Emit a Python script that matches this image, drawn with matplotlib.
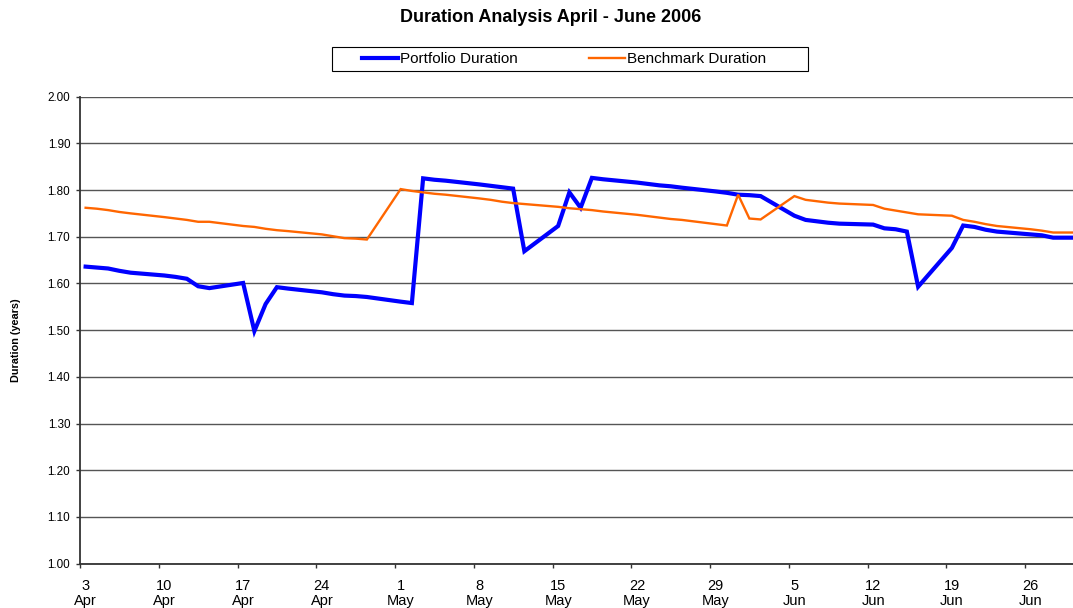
#!/usr/bin/env python3
# coding=UTF-8
"""Duration analysis chart, April - June 2006."""
import numpy as np
import matplotlib
matplotlib.use('Agg')
import matplotlib.pyplot as plt
from matplotlib.patches import Rectangle

START = '2006-04-03'

dates = [
    '2006-04-03', '2006-04-04', '2006-04-05', '2006-04-06', '2006-04-07',
    '2006-04-10', '2006-04-11', '2006-04-12', '2006-04-13', '2006-04-14',
    '2006-04-17', '2006-04-18', '2006-04-19', '2006-04-20', '2006-04-21',
    '2006-04-24', '2006-04-25', '2006-04-26', '2006-04-27', '2006-04-28',
    '2006-05-01', '2006-05-02', '2006-05-03', '2006-05-04', '2006-05-05',
    '2006-05-08', '2006-05-09', '2006-05-10', '2006-05-11', '2006-05-12',
    '2006-05-15', '2006-05-16', '2006-05-17', '2006-05-18', '2006-05-19',
    '2006-05-22', '2006-05-23', '2006-05-24', '2006-05-25', '2006-05-26',
    '2006-05-29', '2006-05-30', '2006-05-31', '2006-06-01', '2006-06-02',
    '2006-06-05', '2006-06-06', '2006-06-07', '2006-06-08', '2006-06-09',
    '2006-06-12', '2006-06-13', '2006-06-14', '2006-06-15', '2006-06-16',
    '2006-06-19', '2006-06-20', '2006-06-21', '2006-06-22', '2006-06-23',
    '2006-06-26', '2006-06-27', '2006-06-28', '2006-06-29', '2006-06-30',
]

portfolio = [
    1.636, 1.634, 1.632, 1.627, 1.623,
    1.617, 1.614, 1.610, 1.594, 1.590,
    1.601, 1.498, 1.556, 1.592, 1.589,
    1.581, 1.577, 1.574, 1.573, 1.571,
    1.561, 1.558, 1.825, 1.822, 1.820,
    1.812, 1.809, 1.806, 1.803, 1.669,
    1.723, 1.795, 1.762, 1.826, 1.823,
    1.816, 1.813, 1.810, 1.808, 1.805,
    1.797, 1.794, 1.790, 1.789, 1.787,
    1.745, 1.736, 1.733, 1.730, 1.728,
    1.726, 1.718, 1.716, 1.711, 1.593,
    1.676, 1.724, 1.721, 1.715, 1.711,
    1.705, 1.703, 1.698, 1.698, 1.698,
]

benchmark = [
    1.762, 1.760, 1.757, 1.753, 1.750,
    1.742, 1.739, 1.736, 1.732, 1.732,
    1.723, 1.721, 1.717, 1.714, 1.712,
    1.705, 1.701, 1.697, 1.696, 1.694,
    1.802, 1.798, 1.795, 1.792, 1.790,
    1.782, 1.779, 1.775, 1.772, 1.770,
    1.764, 1.761, 1.759, 1.757, 1.754,
    1.747, 1.744, 1.741, 1.738, 1.736,
    1.727, 1.724, 1.790, 1.739, 1.737,
    1.787, 1.779, 1.776, 1.773, 1.771,
    1.768, 1.760, 1.756, 1.752, 1.748,
    1.745, 1.736, 1.732, 1.727, 1.723,
    1.716, 1.713, 1.709, 1.709, 1.709,
]

tick_dates = [
    '2006-04-03', '2006-04-10', '2006-04-17', '2006-04-24', '2006-05-01',
    '2006-05-08', '2006-05-15', '2006-05-22', '2006-05-29', '2006-06-05',
    '2006-06-12', '2006-06-19', '2006-06-26',
]
tick_labels = [
    '3\nApr', '10\nApr', '17\nApr', '24\nApr', '1\nMay', '8\nMay', '15\nMay',
    '22\nMay', '29\nMay', '5\nJun', '12\nJun', '19\nJun', '26\nJun',
]


def day_offset(values):
    """Days since the first date of the chart."""
    arr = np.array(values, dtype='datetime64[D]')
    return (arr - np.datetime64(START)).astype(int)


def plot(output='out.png'):
    plt.rcParams['font.family'] = ['Liberation Sans', 'DejaVu Sans']
    W, H = 1073, 608
    fig = plt.figure(figsize=(W / 100, H / 100), dpi=100)
    # plot area in pixels: left 80, top 96.6, bottom 563.7
    ax = fig.add_axes([80 / W, (H - 563.7) / H, 1 - 80 / W, 467.1 / H])

    x = day_offset(dates)
    ax.plot(x, portfolio, color='#0000FF', lw=3.0, solid_joinstyle='miter',
            label='Portfolio Duration', zorder=3)
    ax.plot(x, benchmark, color='#FF6600', lw=1.7, solid_joinstyle='miter',
            label='Benchmark Duration', zorder=4)

    ax.set_ylim(1.0, 2.0)
    ax.set_yticks(np.arange(1.0, 2.001, 0.1))
    ax.set_yticklabels(['%.2f' % v for v in np.arange(1.0, 2.001, 0.1)])
    ax.yaxis.grid(True, color='#555555', lw=1.0)
    ax.set_axisbelow(True)

    # Excel style date axis: ticks on day boundaries, labels in the middle
    ax.set_xlim(-0.5, (W - 80) / 11.25 - 0.5)
    ticks = day_offset(tick_dates)
    ax.set_xticks(ticks - 0.5)
    ax.set_xticklabels([])
    ax.set_xticks(ticks, minor=True)
    ax.set_xticklabels(tick_labels, minor=True, fontsize=10.5, linespacing=1.1)
    ax.tick_params(axis='x', which='minor', length=0, pad=11)
    ax.tick_params(axis='x', which='major', length=3, width=1.0,
                   color='#333333')
    ax.tick_params(axis='y', length=3, width=1.0, color='#333333',
                   labelsize=8.4, pad=4)

    for side in ('top', 'right'):
        ax.spines[side].set_visible(False)
    for side in ('left', 'bottom'):
        ax.spines[side].set_color('#333333')
        ax.spines[side].set_linewidth(1.3)

    fig.text(16 / W, 1 - 340 / H, 'Duration (years)', rotation=90,
             ha='center', va='center', fontsize=7.8, fontweight='bold')
    fig.text(551 / W, 1 - 17 / H, 'Duration Analysis April - June 2006',
             ha='center', va='center', fontsize=13, fontweight='bold')

    # Legend box drawn separately so its padding matches
    fig.patches.append(Rectangle((332 / W, 1 - 71 / H), 476 / W, 24 / H,
                                 transform=fig.transFigure, fill=False,
                                 edgecolor='black', lw=0.8))
    fig.legend(loc='center', bbox_to_anchor=(564 / W, 1 - 59 / H), ncol=2,
               frameon=False, fontsize=11, handlelength=2.35,
               handletextpad=0.12, columnspacing=4.65, borderpad=0)

    fig.savefig(output, dpi=100)


def main():
    plot('out.png')
    return 0


if __name__ == '__main__':
    main()
